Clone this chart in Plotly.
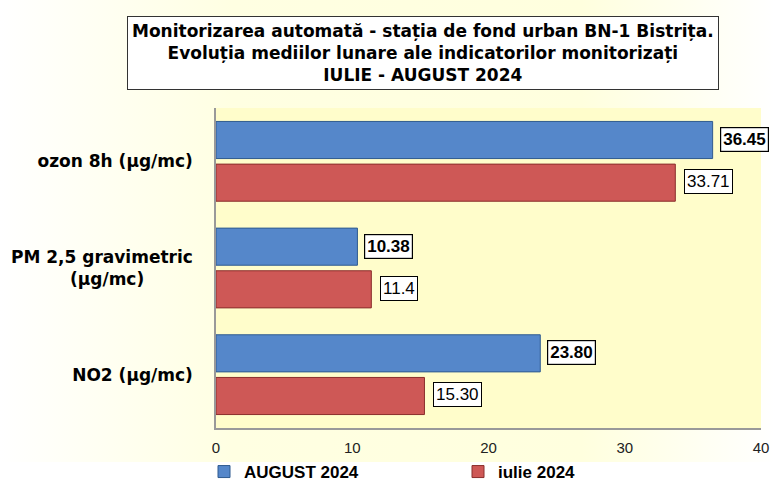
import base64
import plotly.graph_objects as go

categories = ["ozon 8h (µg/mc)", "PM 2,5 gravimetric (µg/mc)", "NO2 (µg/mc)"]
category_ids = ["ozon", "pm25", "no2"]
august_2024 = [36.45, 10.38, 23.80]
iulie_2024 = [33.71, 11.4, 15.30]
august_labels = ["36.45", "10.38", "23.80"]
iulie_labels = ["33.71", "11.4", "15.30"]
series_names = ["AUGUST 2024", "iulie 2024"]
x_ticks = [0, 10, 20, 30, 40]
title_lines = [
    "Monitorizarea automată - stația de fond urban BN-1 Bistrița.",
    "Evoluția mediilor lunare ale indicatorilor monitorizați",
    "IULIE - AUGUST 2024",
]

W, H = 775, 481
L, R, T, B = 216, 14, 108, 53
pw, ph = W - L - R, H - T - B

BLUE = "#5587CA"
RED = "#CE5856"
SANS_B = "DejaVu Sans, sans-serif"
ARIAL = "Liberation Sans, Arial, sans-serif"

# tick labels (bold); second line of the PM label padded so it sits centred
tick_text = [
    "<b>ozon 8h (µg/mc)</b>",
    "<b>PM 2,5 gravimetric</b><br><b>(µg/mc)</b>" + "\u00a0" * 9,
    "<b>NO2 (µg/mc)</b>",
]

fig = go.Figure()
fig.add_trace(go.Bar(
    y=category_ids, x=august_2024, name="<b>%s</b>" % series_names[0], orientation="h",
    marker=dict(color=BLUE, line=dict(color="#2F5B8F", width=1)),
))
fig.add_trace(go.Bar(
    y=category_ids, x=iulie_2024, name="<b>%s</b>" % series_names[1], orientation="h",
    marker=dict(color=RED, line=dict(color="#8A2E2C", width=1)),
))

# data labels in boxes, centred on their bars
for i, cid in enumerate(category_ids):
    fig.add_annotation(
        x=august_2024[i], y=cid, xref="x", yref="y", yshift=22,
        text="<b>%s</b>" % august_labels[i], showarrow=False,
        xanchor="left", xshift=7,
        font=dict(family=ARIAL, size=17, color="#000"),
        bgcolor="white", bordercolor="#000", borderwidth=1.2, borderpad=2,
    )
    fig.add_annotation(
        x=iulie_2024[i], y=cid, xref="x", yref="y", yshift=-20,
        text=iulie_labels[i], showarrow=False,
        xanchor="left", xshift=9,
        font=dict(family=ARIAL, size=17, color="#000"),
        bgcolor="white", bordercolor="#000", borderwidth=1, borderpad=2,
    )

# title box
fig.add_annotation(
    xref="paper", yref="paper", x=(423 - L) / pw, y=(H - B - 52.5) / ph,
    xanchor="center", yanchor="middle",
    text="<br>".join("<b>%s</b>" % t for t in title_lines),
    showarrow=False, align="center",
    font=dict(family=SANS_B, size=17, color="#000"),
    bgcolor="white", bordercolor="#333", borderwidth=1, borderpad=4,
)

# background gradient (white -> pale yellow -> white), upper part of the page
svg = (
    "<svg xmlns='http://www.w3.org/2000/svg' width='775' height='462' preserveAspectRatio='none'>"
    "<defs><linearGradient id='g' x1='0' x2='1' y1='0' y2='0'>"
    "<stop offset='0' stop-color='#ffffff'/>"
    "<stop offset='0.3' stop-color='#ffffe2'/>"
    "<stop offset='0.75' stop-color='#ffffde'/>"
    "<stop offset='1' stop-color='#ffffff'/>"
    "</linearGradient></defs>"
    "<rect width='775' height='462' fill='url(#g)'/></svg>"
)
src = "data:image/svg+xml;base64," + base64.b64encode(svg.encode()).decode()
fig.add_layout_image(
    source=src, xref="paper", yref="paper",
    x=-L / pw, y=(H - B) / ph, sizex=W / pw, sizey=462 / ph,
    xanchor="left", yanchor="top", sizing="stretch", layer="below",
)
# plot area fill
fig.add_shape(type="rect", xref="paper", yref="paper", x0=0, x1=1, y0=0, y1=1,
              fillcolor="#FFFDCB", line=dict(width=0), layer="below")

fig.update_layout(
    width=W, height=H,
    margin=dict(l=L, r=R, t=T, b=B, pad=0, autoexpand=False),
    paper_bgcolor="white", plot_bgcolor="rgba(0,0,0,0)",
    barmode="group", bargap=0.2, bargroupgap=0.13,
    showlegend=True,
    legend=dict(
        orientation="h", x=-12 / pw, xanchor="left", y=(H - B - 490) / ph, yanchor="bottom",
        entrywidth=209, entrywidthmode="pixels",
        font=dict(family=ARIAL, size=17, color="#000"),
        bgcolor="rgba(0,0,0,0)", traceorder="normal",
    ),
    xaxis=dict(
        range=[0, 40], tickvals=x_ticks, showgrid=False, zeroline=False,
        showline=True, linecolor="#999", linewidth=1.5, automargin=False,
        ticks="", tickfont=dict(family=ARIAL, size=15, color="#222"),
        ticklabelstandoff=5,
    ),
    yaxis=dict(
        categoryorder="array", categoryarray=category_ids,
        tickvals=category_ids, ticktext=tick_text,
        autorange="reversed", showgrid=False, zeroline=False,
        showline=True, linecolor="#999", linewidth=1.5, automargin=False,
        ticks="", ticklabelstandoff=18,
        tickfont=dict(family=SANS_B, size=17, color="#000"),
    ),
)

fig.write_html(
    "out.html",
    config={"displayModeBar": False},
    post_script="document.body.style.margin='0';",
)
